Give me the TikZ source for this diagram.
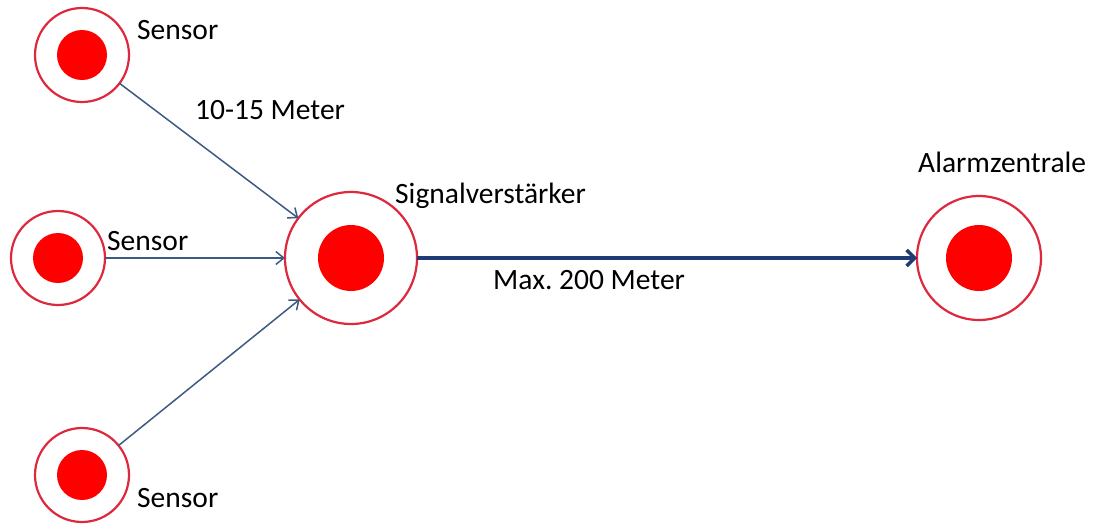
\documentclass[tikz,border=0pt]{standalone}
\usepackage{fontspec}
\setmainfont{Carlito}
\frenchspacing
\usetikzlibrary{arrows.meta}
\definecolor{ringred}{RGB}{222,40,60}
\definecolor{linkblue}{RGB}{60,90,130}
\definecolor{mainblue}{RGB}{30,60,115}
\tikzset{
  sensor/.style={circle, draw=ringred, line width=2.2pt, minimum size=94pt, inner sep=0pt, outer sep=0pt,
    path picture={\fill[red] (path picture bounding box.center) circle (25pt);}},
  amplifier/.style={sensor, minimum size=132pt,
    path picture={\fill[red] (path picture bounding box.center) circle (33pt);}},
  central/.style={sensor, minimum size=124pt,
    path picture={\fill[red] (path picture bounding box.center) circle (33pt);}},
  link/.style={draw=linkblue, line width=1.5pt, -{Straight Barb[length=8pt,width=13pt]}},
  mainlink/.style={draw=mainblue, line width=3.5pt, -{Straight Barb[length=8pt,width=16pt]}},
  label/.style={anchor=west, inner sep=0pt, font=\fontsize{29.5}{35}\selectfont}
}
\begin{document}
\begin{tikzpicture}[x=1pt, y=-1pt]
    \useasboundingbox (0,0) rectangle (1097,523);
    \node[sensor] (S1) at ( 82, 55) {};
    \node[sensor] (S2) at ( 58,258) {};
    \node[sensor] (S3) at ( 82,475) {};
    \node[amplifier] (A) at (351,258) {};
    \node[central] (Z) at (979,258) {};
    %
    \draw[link] (S1) -- (A);
    \draw[link] (S2) -- (A);
    \draw[link] (S3) -- (A);
    \draw[mainlink] (A) -- (Z);
    %
    \node[label] (l1) at (137, 30) {Sensor};
    \node[label] (l2) at (107,241) {Sensor};
    \node[label] (l3) at (137,498) {Sensor};
    \node[label] (lA) at (395,196) {Signalverstärker};
    \node[label] (lZ) at (918,162) {Alarmzentrale};
    \node[label] (d1) at (195,110) {10-15 Meter};
    \node[label] (d2) at (493,280) {Max. 200 Meter};
\end{tikzpicture}
\end{document}
